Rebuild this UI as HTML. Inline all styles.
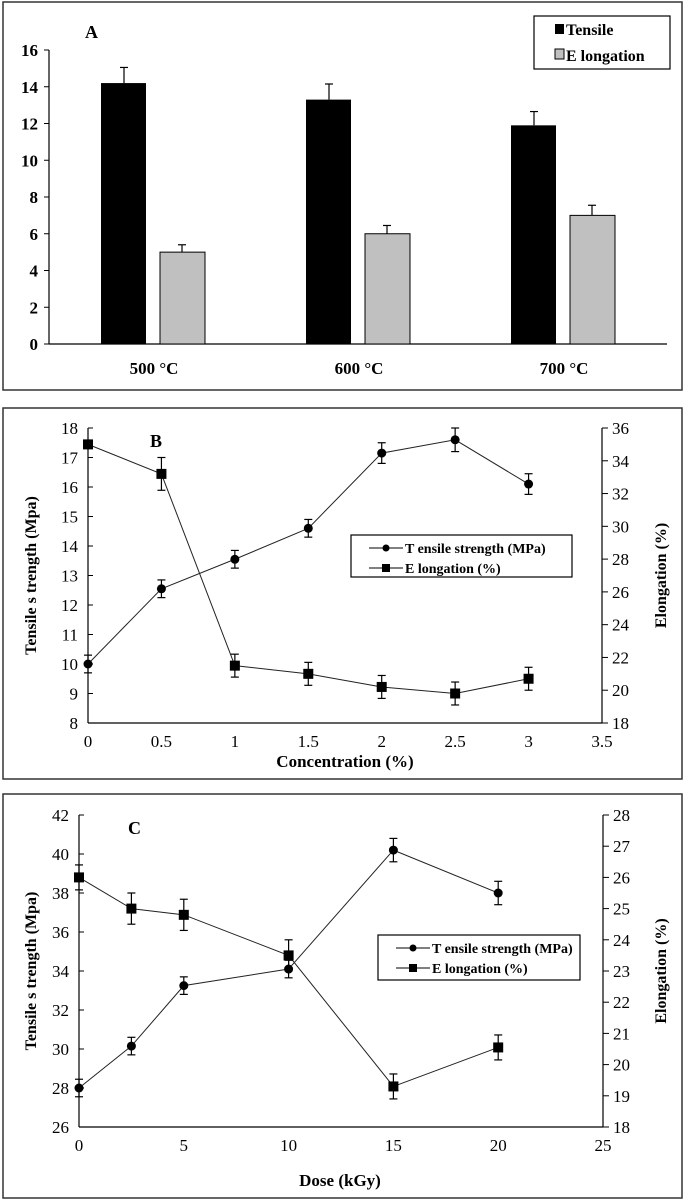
<!DOCTYPE html>
<html><head><meta charset="utf-8"><style>
body{margin:0;background:#fff}
svg{display:block;font-family:"Liberation Serif",serif}
</style></head><body>
<svg id="s" width="685" height="1201"></svg>
<script>
// Panel A data
const aCats=["500 °C","600 °C","700 °C"];
const aTensile=[14.2,13.3,11.9];
const aTensileErr=[0.85,0.85,0.75];
const aElong=[5.0,6.0,7.0];
const aElongErr=[0.4,0.45,0.55];
const aTicks=[0,2,4,6,8,10,12,14,16];
// Panel B data
const bX=[0,0.5,1,1.5,2,2.5,3];
const bTensile=[10,12.55,13.55,14.6,17.15,17.6,16.1];
const bTensileErr=[0.3,0.3,0.3,0.3,0.35,0.4,0.35];
const bElong=[35,33.2,21.5,21.0,20.2,19.8,20.7];
const bElongErr=[0.1,1.0,0.7,0.7,0.7,0.7,0.7];
const bXTicks=[0,0.5,1,1.5,2,2.5,3,3.5];
const bYTicks=[8,9,10,11,12,13,14,15,16,17,18];
const bY2Ticks=[18,20,22,24,26,28,30,32,34,36];
// Panel C data
const cX=[0,2.5,5,10,15,20];
const cTensile=[28,30.15,33.25,34.1,40.2,38];
const cTensileErr=[0.45,0.45,0.45,0.45,0.6,0.6];
const cElong=[26,25,24.8,23.5,19.3,20.55];
const cElongErr=[0.4,0.5,0.5,0.5,0.4,0.4];
const cXTicks=[0,5,10,15,20,25];
const cYTicks=[26,28,30,32,34,36,38,40,42];
const cY2Ticks=[18,19,20,21,22,23,24,25,26,27,28];

const S=document.getElementById('s');const NS="http://www.w3.org/2000/svg";
function el(t,a,txt,p){const e=document.createElementNS(NS,t);for(const k in a)e.setAttribute(k,a[k]);if(txt!=null)e.textContent=txt;(p||S).appendChild(e);return e;}
function line(x1,y1,x2,y2,w,p){return el('line',{x1,y1,x2,y2,stroke:'#000','stroke-width':w||1},null,p);}
function lin(d0,d1,r0,r1){return v=>r0+(v-d0)/(d1-d0)*(r1-r0);}

// ---------- Panel A ----------
let g=el('g',{});


el('rect',{x:3,y:2,width:679,height:388,fill:'none',stroke:'#333','stroke-width':1.5},null,g);
const ay=lin(0,16,344,50);
line(49,50,49,344,1.2,g);line(49,344,667,344,1.2,g);
aTicks.forEach(t=>{line(44,ay(t),49,ay(t),1,g);const tx=el('text',{x:38,y:ay(t)+6,'text-anchor':'end','font-size':17,'font-weight':'bold'},t,g);
});
const aCenters=[154,359,564];
aCats.forEach((c,i)=>{
 const cx=aCenters[i];
 const b1=el('rect',{x:cx-53,y:ay(aTensile[i]),width:45,height:ay(0)-ay(aTensile[i]),fill:'#000'},null,g);
 
 line(cx-30,ay(aTensile[i]),cx-30,ay(aTensile[i]+aTensileErr[i]),1.2,g);line(cx-34,ay(aTensile[i]+aTensileErr[i]),cx-26,ay(aTensile[i]+aTensileErr[i]),1.2,g);
 const b2=el('rect',{x:cx+6,y:ay(aElong[i]),width:45,height:ay(0)-ay(aElong[i]),fill:'#c0c0c0',stroke:'#000','stroke-width':1},null,g);
 
 line(cx+28,ay(aElong[i]),cx+28,ay(aElong[i]+aElongErr[i]),1.2,g);line(cx+24,ay(aElong[i]+aElongErr[i]),cx+32,ay(aElong[i]+aElongErr[i]),1.2,g);
 const tl=el('text',{x:cx,y:374,'text-anchor':'middle','font-size':17,'font-weight':'bold'},c,g);
 
});
let t=el('text',{x:85,y:38,'font-size':18,'font-weight':'bold'},'A',g);

let lg=el('g',{},null,g);

el('rect',{x:534,y:16,width:136,height:53,fill:'#fff',stroke:'#000','stroke-width':1.2},null,lg);
el('rect',{x:555,y:24,width:9,height:10,fill:'#000'},null,lg);
el('text',{x:566,y:35,'font-size':16,'font-weight':'bold'},'Tensile',lg);
el('rect',{x:555,y:49,width:9,height:10,fill:'#c0c0c0',stroke:'#000'},null,lg);
el('text',{x:566,y:61,'font-size':16,'font-weight':'bold'},'E longation',lg);

// ---------- line panels ----------
function panel(o){
 const g=el('g',{});
 
 
 el('rect',{x:3,y:o.top,width:679,height:o.bot-o.top,fill:'none',stroke:'#333','stroke-width':1.5},null,g);
 const X=lin(o.xd[0],o.xd[1],o.L,o.R),Y=lin(o.yd[0],o.yd[1],o.B,o.T),Y2=lin(o.y2d[0],o.y2d[1],o.B,o.T);
 line(o.L,o.T,o.L,o.B,1.2,g);line(o.R,o.T,o.R,o.B,1.2,g);line(o.L,o.B,o.R,o.B,1.2,g);
 o.yt.forEach(v=>{line(o.L,Y(v),o.L+5,Y(v),1,g);const e=el('text',{x:o.L-10,y:Y(v)+6,'text-anchor':'end','font-size':17},v,g);});
 o.y2t.forEach(v=>{line(o.R,Y2(v),o.R+6,Y2(v),1,g);const e=el('text',{x:o.R+10,y:Y2(v)+6,'font-size':17},v,g);});
 o.xt.forEach(v=>{const e=el('text',{x:X(v),y:o.B+24,'text-anchor':'middle','font-size':17},v,g);});
 const pts1=o.x.map((v,i)=>X(v)+','+Y(o.t[i])).join(' ');
 const pts2=o.x.map((v,i)=>X(v)+','+Y2(o.e[i])).join(' ');
 const l1=el('polyline',{points:pts1,fill:'none',stroke:'#222','stroke-width':1},null,g);
 
 const l2=el('polyline',{points:pts2,fill:'none',stroke:'#222','stroke-width':1},null,g);
 
 o.x.forEach((v,i)=>{
  const x=X(v);
  let y0=Y(o.t[i]-o.te[i]),y1=Y(o.t[i]+o.te[i]);
  line(x,y0,x,y1,1.2,g);line(x-4,y0,x+4,y0,1.2,g);line(x-4,y1,x+4,y1,1.2,g);
  const c=el('circle',{cx:x,cy:Y(o.t[i]),r:4.5,fill:'#000'},null,g);
  
  y0=Y2(o.e[i]-o.ee[i]);y1=Y2(o.e[i]+o.ee[i]);
  line(x,y0,x,y1,1.2,g);line(x-4,y0,x+4,y0,1.2,g);line(x-4,y1,x+4,y1,1.2,g);
  const r=el('rect',{x:x-5,y:Y2(o.e[i])-5,width:10,height:10,fill:'#000'},null,g);
  
 });
 let e=el('text',{x:o.lx,y:o.T+19,'font-size':18,'font-weight':'bold'},o.letter,g);
 
 e=el('text',{x:0,y:0,'font-size':16,'font-weight':'bold','text-anchor':'middle',transform:`translate(36,${(o.T+o.B)/2}) rotate(-90)`},'Tensile s trength (Mpa)',g);
 
 e=el('text',{x:0,y:0,'font-size':16,'font-weight':'bold','text-anchor':'middle',transform:`translate(666,${(o.T+o.B)/2}) rotate(-90)`},'Elongation  (%)',g);
 
 e=el('text',{x:o.xtx,y:o.bot-12,'font-size':17,'font-weight':'bold','text-anchor':'middle'},o.xtitle,g);
 
 const lg=el('g',{},null,g);
 
 el('rect',{x:o.lg[0],y:o.lg[1],width:o.lg[2],height:o.lg[3],fill:'#fff',stroke:'#000','stroke-width':1.2},null,lg);
 const lx=o.lg[0]+18,ly1=o.lg[1]+13,ly2=o.lg[1]+33;
 line(lx,ly1,lx+34,ly1,1,lg);el('circle',{cx:lx+17,cy:ly1,r:3.5,fill:'#000'},null,lg);
 el('text',{x:lx+36,y:ly1+5,'font-size':14,'font-weight':'bold'},'T ensile strength (MPa)',lg);
 line(lx,ly2,lx+34,ly2,1,lg);el('rect',{x:lx+13,y:ly2-4,width:8,height:8,fill:'#000'},null,lg);
 el('text',{x:lx+36,y:ly2+5,'font-size':14,'font-weight':'bold'},'E longation (%)',lg);
}
panel({name:'panel-b',top:408,bot:779,L:88,R:602,T:428,B:723,xd:[0,3.5],yd:[8,18],y2d:[18,36],
 yt:bYTicks,y2t:bY2Ticks,xt:bXTicks,x:bX,t:bTensile,te:bTensileErr,e:bElong,ee:bElongErr,
 letter:'B',lx:150,xtitle:'Concentration  (%)',xtx:345,lg:[351,535,221,42]});
panel({name:'panel-c',top:794,bot:1198,L:79,R:603,T:815,B:1127,xd:[0,25],yd:[26,42],y2d:[18,28],
 yt:cYTicks,y2t:cY2Ticks,xt:cXTicks,x:cX,t:cTensile,te:cTensileErr,e:cElong,ee:cElongErr,
 letter:'C',lx:128,xtitle:'Dose (kGy)',xtx:340,lg:[378,935,202,45]});
</script>
</body></html>
